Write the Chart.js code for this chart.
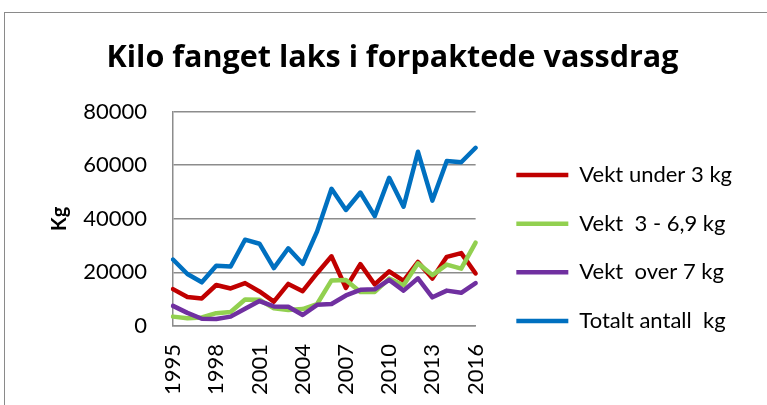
<!DOCTYPE html>
<html>
<head>
<meta charset="utf-8">
<script src="https://cdn.jsdelivr.net/npm/chart.js"></script>
<style>
  html, body { margin: 0; padding: 0; background: #fff; }
  #wrap { position: relative; width: 767px; height: 405px; overflow: hidden; }
  #frame { position: absolute; left: 4px; top: 12px; width: 800px; height: 420px; border-left: 1px solid #8a8a8a; border-top: 1px solid #8a8a8a; }
  canvas { position: absolute; left: 0; top: 0; }
</style>
</head>
<body>
<div id="wrap">
  <div id="frame"></div>
  <canvas id="myChart" width="767" height="405"></canvas>
</div>
<script>
var years = ['1995', '1996', '1997', '1998', '1999', '2000', '2001', '2002', '2003', '2004', '2005',
             '2006', '2007', '2008', '2009', '2010', '2011', '2012', '2013', '2014', '2015', '2016']
var under3 = [13750, 10800, 10300, 15300, 14000, 16000, 12900, 9100, 15700, 13000, 19700,
              26000, 14200, 23100, 15500, 20400, 16800, 23900, 17700, 25800, 27200, 19600]
var mid3to7 = [3500, 2900, 3200, 4800, 5200, 9900, 9800, 6600, 6000, 6300, 8200,
               17000, 17200, 12700, 12700, 17700, 15200, 23400, 19000, 22900, 21400, 31100]
var over7 = [7500, 4900, 2700, 2600, 3500, 6400, 9300, 7300, 7200, 4100, 7900,
             8200, 11400, 13500, 13700, 17200, 13200, 17800, 10700, 13200, 12400, 16000]
var total = [24800, 19400, 16300, 22500, 22200, 32200, 30700, 21600, 29000, 23200, 35300,
             51200, 43300, 49800, 41000, 55300, 44500, 65000, 46800, 61600, 61100, 66500]
var seriesNames = ['Vekt under 3 kg', 'Vekt  3 - 6,9 kg', 'Vekt  over 7 kg', 'Totalt antall  kg']

var fontName = 'Lato'
var gridGrey = '#8c8c8c'

function lineSet(label, data, color, order) {
    return {
        label: label,
        data: data,
        borderColor: color,
        backgroundColor: color,
        borderWidth: 4.5,
        borderJoinStyle: 'round',
        borderCapStyle: 'round',
        pointRadius: 0,
        tension: 0,
        order: order // excel tegner siste serie øverst
    }
}

var ctx = document.getElementById('myChart').getContext('2d')

var myChart = new Chart(ctx, {
    type: 'line',
    data: {
        labels: years,
        datasets: [
            lineSet(seriesNames[0], under3, '#c00000', 4),
            lineSet(seriesNames[1], mid3to7, '#92d050', 3),
            lineSet(seriesNames[2], over7, '#7030a0', 2),
            lineSet(seriesNames[3], total, '#0070c0', 1)
        ]
    },
    options: {
        responsive: false,
        animation: false,
        layout: { padding: { left: 43, right: 25, top: 0, bottom: 0 } },
        plugins: {
            title: {
                display: true,
                text: 'Kilo fanget laks i forpaktede vassdrag',
                color: '#000',
                font: { family: 'Open Sans', size: 30.5, weight: 'bold' },
                padding: { top: 40, bottom: 35 }
            },
            legend: {
                position: 'right',
                maxWidth: 300,
                // tom tittel for å skyve forklaringen ned
                title: { display: true, text: '', font: { size: 10 }, padding: { top: 79, bottom: 0 } },
                labels: {
                    usePointStyle: true,
                    pointStyle: 'line',
                    pointStyleWidth: 52,
                    padding: 26.7,
                    color: '#000',
                    font: { family: fontName, size: 22 },
                    sort: function(a, b) { return a.datasetIndex - b.datasetIndex }
                }
            },
            tooltip: { enabled: false }
        },
        scales: {
            x: {
                grid: { display: false, drawTicks: false },
                border: { color: gridGrey, width: 1.5 },
                ticks: {
                    autoSkip: false,
                    maxRotation: 90,
                    minRotation: 90,
                    padding: 18,
                    color: '#000',
                    font: { family: fontName, size: 22 },
                    callback: function(value, index) {
                        return index % 3 === 0 ? this.getLabelForValue(value) : ''
                    }
                },
                afterFit: function(scale) { scale.height = 79 }
            },
            y: {
                min: 0,
                max: 80000,
                ticks: {
                    stepSize: 20000,
                    padding: 26,
                    color: '#000',
                    font: { family: fontName, size: 22 },
                    callback: function(value) { return String(value) }
                },
                grid: { color: gridGrey, lineWidth: 1.5, drawTicks: false },
                border: { color: gridGrey, width: 1.5 },
                title: {
                    display: true,
                    text: 'Kg',
                    color: '#000',
                    font: { family: fontName, size: 20, weight: 'bold' },
                    padding: { top: 5, bottom: 0 }
                },
                afterFit: function(scale) { scale.width = 130 }
            },
            y2: {
                position: 'right',
                grid: { display: false, drawTicks: false },
                border: { display: false },
                ticks: { display: false },
                afterFit: function(scale) { scale.width = 14 }
            }
        }
    }
})
</script>
</body>
</html>
